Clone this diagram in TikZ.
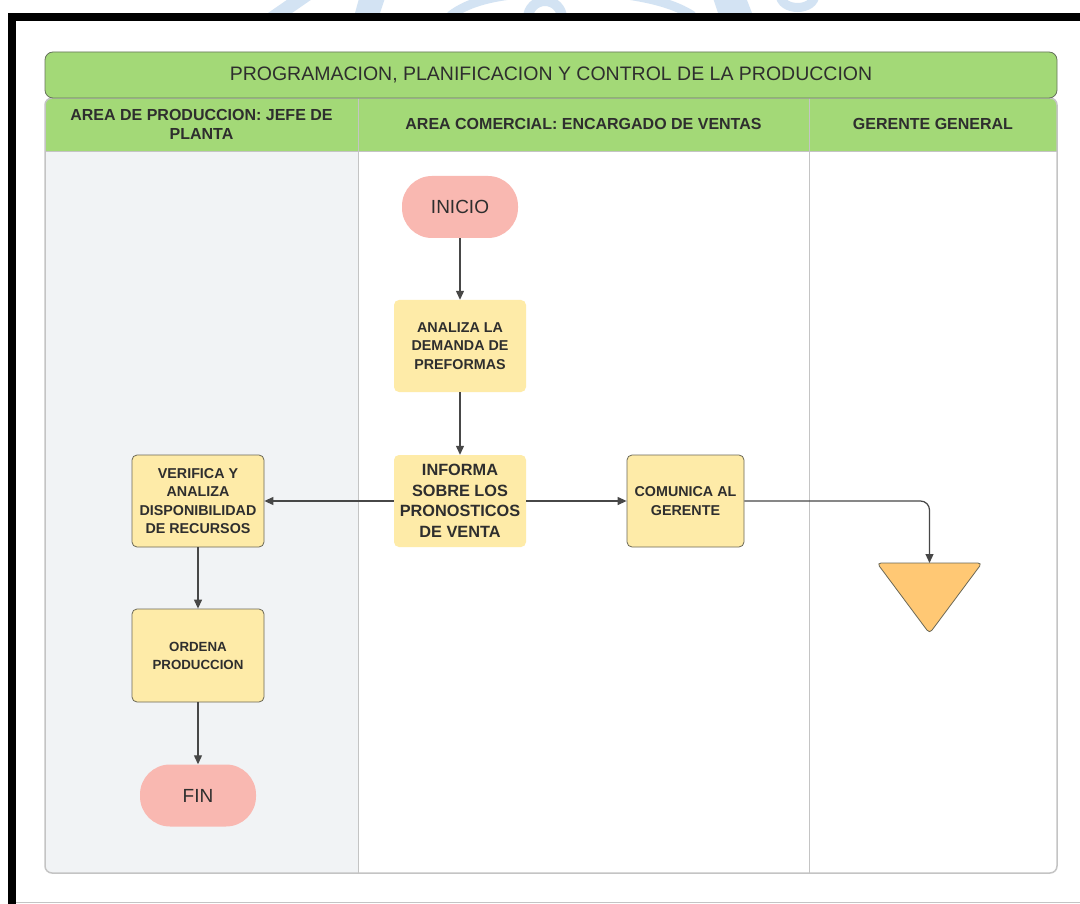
\documentclass[tikz,border=0pt]{standalone}
\usepackage{fontspec}
\setmainfont{Liberation Sans}
\usetikzlibrary{arrows.meta}

\definecolor{lanegreen}{HTML}{A3D977}
\definecolor{greenedge}{HTML}{66735C}
\definecolor{startpink}{HTML}{F9B8B1}
\definecolor{stepyellow}{HTML}{FEEBA8}
\definecolor{mergeorange}{HTML}{FFC874}
\definecolor{lanegray}{HTML}{F1F3F5}
\definecolor{gridline}{HTML}{C4C4C4}
\definecolor{ink}{HTML}{2E2E2E}
\definecolor{boxedge}{HTML}{6B6856}
\definecolor{flowline}{HTML}{474747}
\definecolor{wmblue}{HTML}{D3E3F3}

\tikzset{
  stepbox/.style={rectangle, rounded corners=5, fill=stepyellow, text=ink,
    align=center, inner sep=0, font=\bfseries\fontsize{14.3}{18.5}\selectfont},
  edged/.style={draw=boxedge, line width=0.8},
  terminal/.style={rectangle, rounded corners=30, fill=startpink, text=ink,
    minimum width=116, minimum height=62, inner sep=0,
    font=\fontsize{19}{22}\selectfont},
  lanehead/.style={text=ink, align=center, inner sep=0,
    font=\bfseries\fontsize{16}{19}\selectfont},
  flow/.style={draw=flowline, line width=1.2,
    -{Triangle[length=9pt,width=8pt]}}
}

\begin{document}
\begin{tikzpicture}[x=1pt,y=-1pt]
\useasboundingbox (0,0) rectangle (1080,904);
\fill[white] (0,0) rectangle (1080,904);

% faint crest printed above the frame
\begin{scope}
  \clip (0,0) rectangle (1080,13);
  \fill[wmblue] (268,13) -- (292,13) -- (318,-5) -- (294,-5) -- cycle;
  \fill[wmblue] (355,13) -- (380,13) -- (386,-5) -- (360,-5) -- cycle;
  \draw[wmblue, line width=9] (450,16) .. controls (470,0) and (500,-4) .. (520,-6);
  \draw[wmblue, line width=10] (545,18) circle (17);
  \draw[wmblue, line width=9] (620,-6) .. controls (650,-2) and (675,4) .. (693,16);
  \fill[wmblue] (718,13) -- (752,13) -- (745,-5) -- (712,-5) -- cycle;
  \draw[wmblue, line width=9] (780,-6) .. controls (780,12) and (815,12) .. (815,-6);
\end{scope}

% outer frame
\draw[line width=8, line join=miter] (1090,17) -- (12,17) -- (12,910);
\draw[gridline, line width=1.5] (16,902.5) -- (1080,902.5);

% swimlane body and header row
\begin{scope}
  \clip[rounded corners=7] (45,98) rectangle (1057,873);
  \fill[white] (45,98) rectangle (1057,873);
  \fill[lanegray] (45,152) rectangle (358,873);
  \fill[lanegreen] (45,98) rectangle (1057,152);
\end{scope}
\draw[gridline, line width=1] (45,152) -- (1057,152);
\draw[gridline, line width=1] (358,98) -- (358,873);
\draw[gridline, line width=1] (809,98) -- (809,873);
\draw[gridline, line width=1.5, rounded corners=7] (45,98) rectangle (1057,873);

% title bar
\node[rectangle, rounded corners=8, fill=lanegreen, draw=greenedge, line width=0.8,
  minimum width=1012, minimum height=46, inner sep=0, text=ink,
  font=\fontsize{19.5}{22}\selectfont] (title) at (551,75)
  {PROGRAMACION, PLANIFICACION Y CONTROL DE LA PRODUCCION};

% lane headings
\node[lanehead] (hprod) at (201.5,124) {AREA DE PRODUCCION: JEFE DE\\PLANTA};
\node[lanehead] (hcom) at (583.5,124) {AREA COMERCIAL: ENCARGADO DE VENTAS};
\node[lanehead] (hger) at (933,124) {GERENTE GENERAL};

% process steps
\node[terminal] (inicio) at (460,207) {INICIO};
\node[stepbox, minimum width=132, minimum height=92] (analiza) at (460,346)
  {ANALIZA LA\\DEMANDA DE\\PREFORMAS};
\node[stepbox, minimum width=132, minimum height=92,
  font=\bfseries\fontsize{16.3}{20.5}\selectfont] (informa) at (460,501)
  {INFORMA\\SOBRE LOS\\PRONOSTICOS\\DE VENTA};
\node[stepbox, edged, minimum width=132, minimum height=92] (verifica) at (198,501)
  {VERIFICA Y\\ANALIZA\\DISPONIBILIDAD\\DE RECURSOS};
\node[stepbox, edged, minimum width=117, minimum height=92] (comunica) at (685.5,501)
  {COMUNICA AL\\GERENTE};
\node[stepbox, edged, minimum width=132, minimum height=93,
  font=\bfseries\fontsize{13.3}{18}\selectfont] (ordena) at (198,655.5)
  {ORDENA\\PRODUCCION};
\node[terminal] (fin) at (198,795.5) {FIN};

% merge symbol
\fill[mergeorange, draw=boxedge, line width=0.8, rounded corners=4]
  (877,563) -- (982,563) -- (929.5,633.5) -- cycle;
\coordinate (mergetop) at (929.5,563);

% connectors
\draw[flow] (inicio) -- (analiza);
\draw[flow] (analiza) -- (informa);
\draw[flow] (informa) -- (verifica);
\draw[flow] (informa) -- (comunica);
\draw[flow] (verifica) -- (ordena);
\draw[flow] (ordena) -- (fin);
\draw[flow, rounded corners=9] (comunica.east) -| (mergetop);
\end{tikzpicture}
\end{document}
